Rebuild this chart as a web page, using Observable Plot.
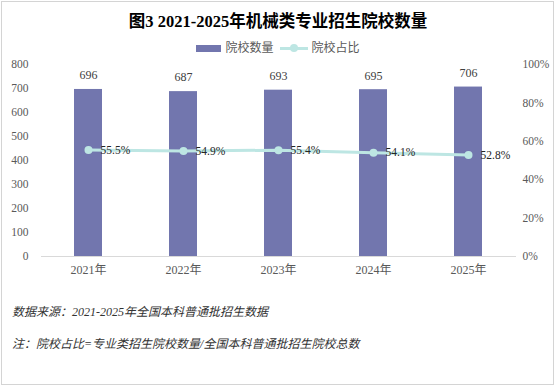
<!DOCTYPE html>
<html>
<head>
<meta charset="utf-8">
<script src="https://cdn.jsdelivr.net/npm/d3@7"></script>
<script src="https://cdn.jsdelivr.net/npm/@observablehq/plot@0.6"></script>
<style>
  body { margin: 0; background: #fff; }
  #wrap { position: relative; width: 556px; height: 387px; overflow: hidden; background: #fff;
          font-family: "Liberation Serif", "Noto Sans CJK SC", serif; }
  #frame { position: absolute; left: 1px; top: 1px; width: 551px; height: 382px; border: 1px solid #d4d4d4; }
  #chart { position: absolute; left: 0; top: 0; }
  .title { position: absolute; left: 0; width: 556px; top: 11px; text-align: center;
           font-size: 16.5px; font-weight: bold; color: #000; line-height: 22px; }
  .legend { position: absolute; top: 40px; left: 0; width: 556px; display: flex; justify-content: center;
            align-items: center; font-size: 12px; color: #595959; line-height: 16px; }
  .legend .sw-bar { width: 25px; height: 7px; background: #7276ae; margin-right: 4px; }
  .legend .sw-line { position: relative; width: 28px; height: 3px; background: #bde6e3; margin: 0 4px 0 6px; }
  .legend .sw-line::after { content: ""; position: absolute; left: 10px; top: -2.5px; width: 8px; height: 8px;
                            border-radius: 50%; background: #bde6e3; }
  .foot { position: absolute; left: 12px; font-size: 12px; font-style: italic; color: #333; line-height: 16px; }
</style>
</head>
<body>
<div id="wrap">
  <div id="frame"></div>
  <div id="chart"></div>
  <div class="title">图3 2021-2025年机械类专业招生院校数量</div>
  <div class="legend">
    <span class="sw-bar"></span><span>院校数量</span>
    <span class="sw-line"></span><span>院校占比</span>
  </div>
  <div class="foot" style="top:304px">数据来源：2021-2025年全国本科普通批招生数据</div>
  <div class="foot" style="top:336px">注：院校占比=专业类招生院校数量/全国本科普通批招生院校总数</div>
</div>
<script>
const years = ["2021年", "2022年", "2023年", "2024年", "2025年"];
const counts = [696, 687, 693, 695, 706];
const shares = [0.555, 0.549, 0.554, 0.541, 0.528];
const leftTicks = [0, 100, 200, 300, 400, 500, 600, 700, 800];
const rightTicks = [0, 0.2, 0.4, 0.6, 0.8, 1.0];

const yMax = 800;
const data = years.map((y, i) => ({year: y, count: counts[i], share: shares[i]}));
const serif = "Liberation Serif, Noto Sans CJK SC, serif";

const chart = Plot.plot({
  width: 556,
  height: 387,
  marginLeft: 41,
  marginRight: 40,
  marginTop: 64,
  marginBottom: 131,
  style: {background: "transparent", overflow: "visible", fontFamily: serif},
  x: {domain: years, paddingInner: 0.705, paddingOuter: 0.3525},
  y: {domain: [0, yMax]},
  marks: [
    Plot.axisY({ticks: leftTicks, tickSize: 0, tickPadding: 13, fontSize: 11.5, color: "#595959", label: null, fontFamily: serif}),
    Plot.axisY({anchor: "right", ticks: rightTicks.map(v => v * yMax), tickFormat: v => Math.round(v / yMax * 100) + "%",
                tickSize: 0, tickPadding: 6, fontSize: 11.5, color: "#595959", label: null, fontFamily: serif}),
    Plot.axisX({tickSize: 0, tickPadding: 9, fontSize: 12, color: "#595959", label: null, fontFamily: serif}),
    Plot.barY(data, {x: "year", y: "count", fill: "#7276ae"}),
    Plot.ruleY([0], {stroke: "#d9d9d9", strokeWidth: 1}),
    Plot.text(data, {x: "year", y: "count", text: d => String(d.count), dy: -14, fontSize: 12, fill: "#404040", fontFamily: serif}),
    Plot.line(data, {x: "year", y: d => d.share * yMax, stroke: "#bde6e3", strokeWidth: 3}),
    Plot.dot(data, {x: "year", y: d => d.share * yMax, r: 4, fill: "#bde6e3", stroke: "none"}),
    Plot.text(data, {x: "year", y: d => d.share * yMax, text: d => (d.share * 100).toFixed(1) + "%",
                     dx: 12, textAnchor: "start", fontSize: 11.5, fill: "#262626", fontFamily: serif,
                     letterSpacing: "0.4px"})
  ]
});
document.getElementById("chart").appendChild(chart);
</script>
</body>
</html>
